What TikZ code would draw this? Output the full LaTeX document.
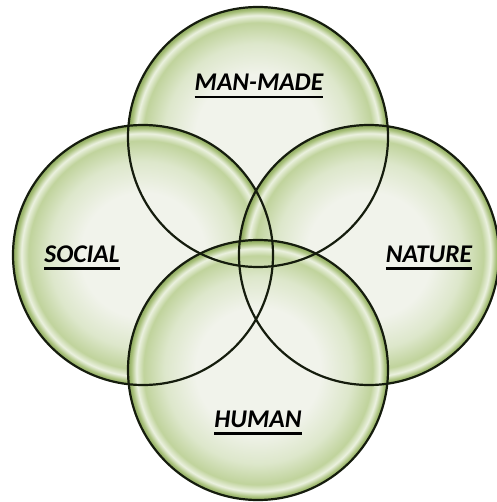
\documentclass[tikz,border=0pt]{standalone}
\usepackage{fontspec}
\setmainfont{Carlito}
\definecolor{bpale}{HTML}{F1F3EB}
\definecolor{blite}{HTML}{DDE7CB}
\definecolor{bmid}{HTML}{C0D39C}
\definecolor{bhigh}{HTML}{EBF1DF}
\definecolor{bedge}{HTML}{A9C17B}
\definecolor{brim}{HTML}{8AA65C}
\definecolor{bline}{HTML}{151C0D}
\pgfdeclareradialshading{bubble}{\pgfpoint{0bp}{0bp}}{%
  color(0bp)=(bpale); color(12bp)=(bpale); color(18bp)=(blite); color(22bp)=(bmid);
  color(23.4bp)=(bhigh); color(24.4bp)=(bedge); color(25bp)=(brim); color(50bp)=(brim)}
\newcommand\lbl[1]{\setbox0\hbox{#1}\rlap{\rule[-7.5pt]{\wd0}{2.2pt}}\box0}
\tikzset{
  bubble/.style={shading=bubble},
  rimline/.style={draw=bline, line width=2.2pt},
  lab/.style={anchor=base, font=\fontsize{25.5}{30}\selectfont\bfseries\itshape, inner sep=0pt}
}
\begin{document}
\begin{tikzpicture}[x=1pt,y=-1pt]
\useasboundingbox (0,0) rectangle (496,502);
\coordinate (ct) at (258,137);
\coordinate (cl) at (143,255);
\coordinate (cr) at (369,255);
\coordinate (cb) at (258,370);
\begin{scope}[transparency group, blend mode=multiply]
  \shade[bubble] (ct) circle (130);
  \shade[bubble] (cl) circle (130);
  \shade[bubble] (cr) circle (130);
  \shade[bubble] (cb) circle (130);
\end{scope}
\draw[rimline] (ct) circle (130);
\draw[rimline] (cl) circle (130);
\draw[rimline] (cr) circle (130);
\draw[rimline] (cb) circle (130);
\node[lab] (tman) at (259,91) {\lbl{MAN-MADE}};
\node[lab] (tsoc) at (82,262) {\lbl{SOCIAL}};
\node[lab] (tnat) at (429,262) {\lbl{NATURE}};
\node[lab] (thum) at (258,427) {\lbl{HUMAN}};
\end{tikzpicture}
\end{document}
